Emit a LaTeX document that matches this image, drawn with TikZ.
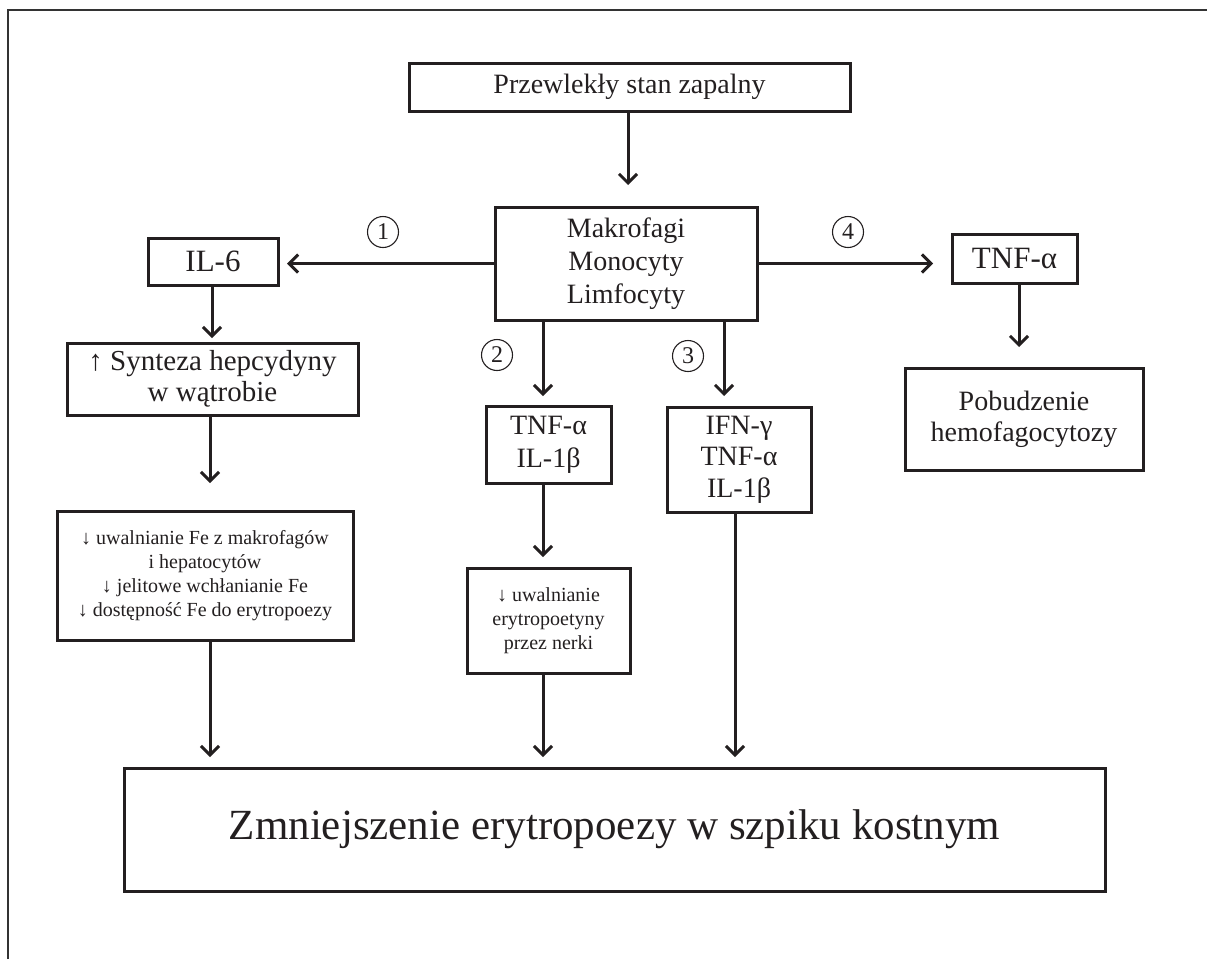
\documentclass[tikz,border=0pt]{standalone}
\usepackage{fontspec}
\setmainfont{Liberation Serif}
\usetikzlibrary{arrows.meta}
\definecolor{ink}{RGB}{35,31,32}
\newcommand\szXL{\fontsize{43}{48}\selectfont}
\newcommand\szL{\fontsize{28}{33}\selectfont}
\newcommand\szLL{\fontsize{31}{33}\selectfont}
\newcommand\szSy{\fontsize{29}{31}\selectfont}
\newcommand\szP{\fontsize{28}{31}\selectfont}
\newcommand\szS{\fontsize{20}{24}\selectfont}
\tikzset{
  box/.style={draw=ink, line width=3pt, inner sep=0pt, align=center, text=ink},
  arr/.style={draw=ink, line width=3pt, -{Straight Barb[length=9pt,width=18pt,line width=3pt]}},
  num/.style={circle, draw=ink, line width=1.1pt, minimum size=31pt, inner sep=0pt, text=ink, font=\fontsize{24}{24}\selectfont},
}
\begin{document}
\begin{tikzpicture}[x=1pt,y=-1pt]
\useasboundingbox (0,0) rectangle (1207,959);
% frame
\draw[line width=1.5pt, draw=black!80] (8,959) -- (8,10) -- (1207,10);

% nodes
\node[box, minimum width=441pt, minimum height=48pt, font=\szL] (top) at (629.5,87) {Przewlekły stan zapalny};
\node[box, minimum width=262pt, minimum height=113pt, font=\szL] (mid) at (626,263.5) {Makrofagi\\Monocyty\\Limfocyty};
\node[box, minimum width=130pt, minimum height=47pt, font=\szLL] (il6) at (213,261.5) {IL-6};
\node[box, minimum width=291pt, minimum height=72pt, font=\szSy] (synt) at (212.5,379) {↑ Synteza hepcydyny\\w wątrobie};
\node[box, minimum width=296pt, minimum height=129pt, font=\szS] (fe) at (205,575.5) {↓ uwalnianie Fe z makrofagów\\i hepatocytów\\↓ jelitowe wchłanianie Fe\\↓ dostępność Fe do erytropoezy};
\node[box, minimum width=125pt, minimum height=77pt, font=\szL] (tnf2) at (548.5,444.5) {TNF-α\\IL-1β};
\node[box, minimum width=163pt, minimum height=105pt, font=\szS] (epo) at (548.5,620.5) {↓ uwalnianie\\erytropoetyny\\przez nerki};
\node[box, minimum width=144pt, minimum height=105pt, font=\fontsize{28}{31.5}\selectfont] (ifn) at (739,459.5) {IFN-γ\\TNF-α\\IL-1β};
\node[box, minimum width=125pt, minimum height=49pt, font=\szLL] (tnf4) at (1014.5,258.5) {TNF-α};
\node[box, minimum width=238pt, minimum height=102pt, font=\szP] (pob) at (1024,419) {Pobudzenie\\hemofagocytozy};
\node[box, minimum width=981pt, minimum height=123pt, font=\szXL] (bot) at (614.5,829.5) {Zmniejszenie erytropoezy w szpiku kostnym};

% numbers
\node[num] (n1) at (383,232) {1};
\node[num] (n2) at (497,355) {2};
\node[num] (n3) at (688,356) {3};
\node[num] (n4) at (848,232) {4};

% arrow tips
\coordinate (t0) at (628,185);
\coordinate (t1) at (287,263.5);
\coordinate (t4) at (933,263.5);
\coordinate (t2) at (543,396);
\coordinate (t3) at (724,396);
\coordinate (tIL) at (212,338);
\coordinate (tSy) at (210,483);
\coordinate (tFe) at (210,757);
\coordinate (tTn) at (543,557);
\coordinate (tEp) at (543,757);
\coordinate (tIf) at (735,757);
\coordinate (tT4) at (1019,347);

% connectors
\draw[arr] (top.south -| t0) -- (t0);
\draw[arr] (mid.west) -- (t1);
\draw[arr] (mid.east) -- (t4);
\draw[arr] (mid.south -| t2) -- (t2);
\draw[arr] (mid.south -| t3) -- (t3);
\draw[arr] (il6.south -| tIL) -- (tIL);
\draw[arr] (synt.south -| tSy) -- (tSy);
\draw[arr] (fe.south -| tFe) -- (tFe);
\draw[arr] (tnf2.south -| tTn) -- (tTn);
\draw[arr] (epo.south -| tEp) -- (tEp);
\draw[arr] (ifn.south -| tIf) -- (tIf);
\draw[arr] (tnf4.south -| tT4) -- (tT4);
\end{tikzpicture}
\end{document}
